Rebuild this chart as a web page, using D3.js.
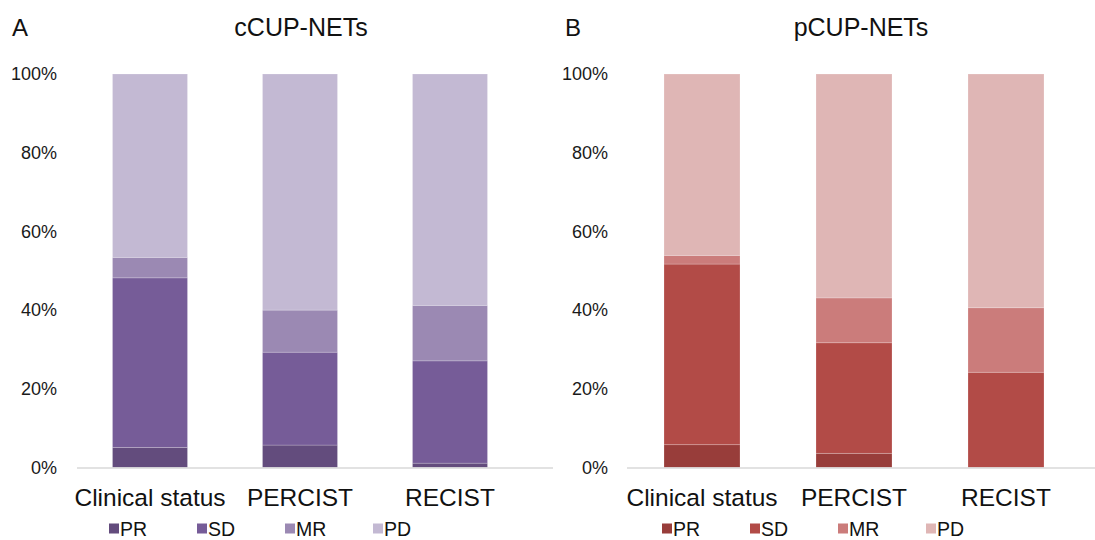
<!DOCTYPE html>
<html>
<head>
<meta charset="utf-8">
<script src="https://cdn.jsdelivr.net/npm/d3@7/dist/d3.min.js"></script>
<style>
  html, body { margin: 0; padding: 0; background: #fff; }
  svg { display: block; font-family: "Liberation Sans", Arial, Helvetica, sans-serif; }
</style>
</head>
<body>
<svg id="chart" width="1095" height="540"></svg>
<script>
// Response categories (percent of patients) per assessment method
const categories = ["Clinical status", "PERCIST", "RECIST"];
const statuses = ["PR", "SD", "MR", "PD"];
const yTicks = [0, 0.2, 0.4, 0.6, 0.8, 1.0];

// cCUP-NETs
const cPR = [5.1, 5.7, 1.1];
const cSD = [43.1, 23.6, 26.0];
const cMR = [5.2, 10.7, 14.1];
const cPD = [46.6, 60.0, 58.8];

// pCUP-NETs
const pPR = [5.8, 3.6, 0.0];
const pSD = [45.9, 28.1, 24.2];
const pMR = [2.2, 11.4, 16.4];
const pPD = [46.1, 56.9, 59.4];

const purple = ["#634c7d", "#765c98", "#9b89b3", "#c3b9d3"];
const red = ["#983d3a", "#b24b47", "#cb7c7b", "#dfb6b5"];

const svg = d3.select("#chart");

function rows(pr, sd, mr, pd) {
  return categories.map((c, i) => ({ cat: c, PR: pr[i], SD: sd[i], MR: mr[i], PD: pd[i] }));
}

function panel(opts) {
  const g = svg.append("g");
  const data = rows(...opts.series);
  const x = d3.scaleBand().domain(categories).range(opts.xRange)
    .paddingInner(0.5).paddingOuter(0.25);
  const y = d3.scaleLinear().domain([0, 100]).range([467.5, 74]);
  const color = d3.scaleOrdinal().domain(statuses).range(opts.colors);

  const stacked = d3.stack().keys(statuses)(data);

  g.selectAll("g.layer").data(stacked).join("g")
    .attr("class", "layer")
    .attr("fill", d => color(d.key))
    .selectAll("rect").data(d => d).join("rect")
      .attr("x", d => x(d.data.cat))
      .attr("width", x.bandwidth())
      .attr("y", d => y(d[1]))
      .attr("height", d => Math.max(0, y(d[0]) - y(d[1])))
      .attr("stroke", "#ffffff")
      .attr("stroke-opacity", 0.25)
      .attr("stroke-width", 0.8);

  // baseline
  g.append("line")
    .attr("x1", opts.baseline[0]).attr("x2", opts.baseline[1])
    .attr("y1", y(0) + 0.5).attr("y2", y(0) + 0.5)
    .attr("stroke", "#d9d9d9").attr("stroke-width", 1.5);

  // y axis labels
  const yAxis = d3.axisLeft(d3.scaleLinear().domain([0, 1]).range(y.range()))
    .tickValues(yTicks).tickFormat(d3.format(".0%")).tickSize(0).tickPadding(0);
  const ya = g.append("g").attr("transform", `translate(${opts.yLabelX},0)`).call(yAxis);
  ya.select(".domain").remove();
  ya.selectAll("text").attr("font-size", 18).attr("fill", "#1a1a1a")
    .attr("font-family", "Liberation Sans, Arial, sans-serif");

  // category labels
  const xAxis = d3.axisBottom(x).tickSize(0).tickPadding(0);
  const xa = g.append("g").attr("transform", `translate(0,${y(0)})`).call(xAxis);
  xa.select(".domain").remove();
  xa.selectAll("text").attr("font-size", 24.5).attr("fill", "#111")
    .attr("dy", null).attr("y", 38)
    .attr("font-family", "Liberation Sans, Arial, sans-serif");

  // title and panel letter
  g.append("text").attr("x", opts.titleX).attr("y", 36)
    .attr("text-anchor", "middle").attr("font-size", 25).attr("fill", "#111")
    .text(opts.title);
  g.append("text").attr("x", opts.letterX).attr("y", 36)
    .attr("font-size", 24).attr("fill", "#111")
    .text(opts.letter);

  // legend
  const lg = g.append("g").attr("transform", `translate(${opts.legendX},529)`);
  const item = lg.selectAll("g").data(statuses).join("g")
    .attr("transform", (d, i) => `translate(${i * 88},0)`);
  item.append("rect").attr("x", 0).attr("y", -5.5).attr("width", 10).attr("height", 10)
    .attr("fill", d => color(d));
  item.append("text").attr("x", 11).attr("y", 7)
    .attr("font-size", 19.5).attr("fill", "#111").text(d => d);
}

panel({
  series: [cPR, cSD, cMR, cPD],
  colors: purple,
  xRange: [75, 525],
  baseline: [77, 553],
  yLabelX: 57,
  title: "cCUP-NETs",
  titleX: 301,
  letter: "A",
  letterX: 12,
  legendX: 109
});

panel({
  series: [pPR, pSD, pMR, pPD],
  colors: red,
  xRange: [626, 1082],
  baseline: [627, 1095],
  yLabelX: 608,
  title: "pCUP-NETs",
  titleX: 861,
  letter: "B",
  letterX: 565,
  legendX: 662
});
</script>
</body>
</html>
